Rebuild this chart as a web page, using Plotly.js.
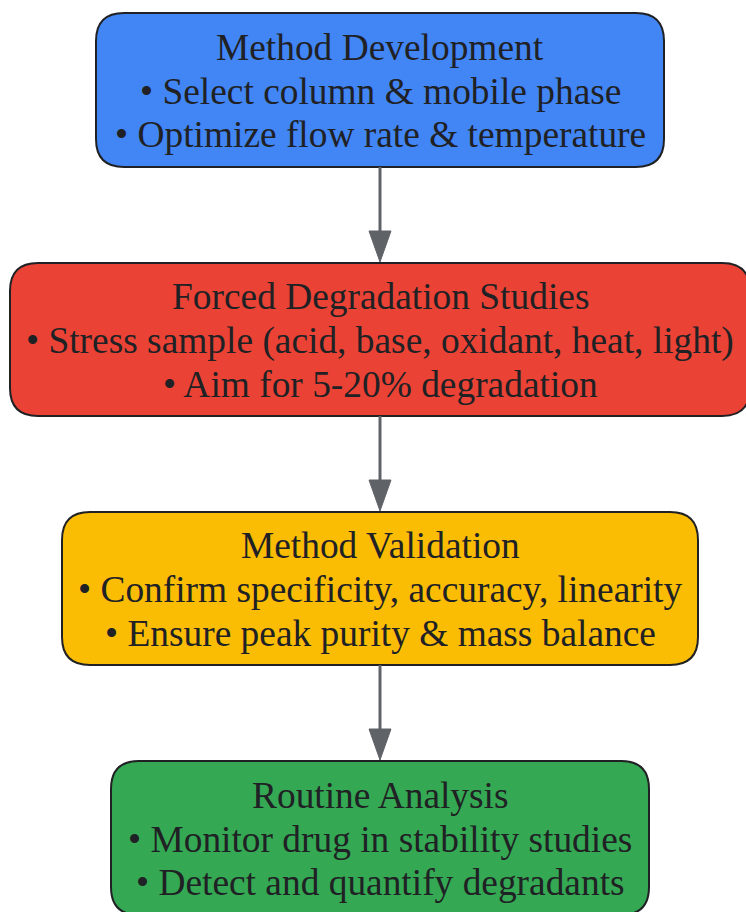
<!DOCTYPE html>
<html>
<head>
<meta charset="utf-8">
<script src="https://cdn.plot.ly/plotly-3.0.1.min.js"></script>
<style>html,body{margin:0;padding:0;background:#fff;}#chart{width:746px;height:912px;}</style>
</head>
<body>
<div id="chart"></div>
<script>
// ---- data ----
const stages = ["Method Development", "Forced Degradation Studies", "Method Validation", "Routine Analysis"];
const firstPoints = ["• Select column & mobile phase", "• Stress sample (acid, base, oxidant, heat, light)", "• Confirm specificity, accuracy, linearity", "• Monitor drug in stability studies"];
const secondPoints = ["• Optimize flow rate & temperature", "• Aim for 5-20% degradation", "• Ensure peak purity & mass balance", "• Detect and quantify degradants"];

// ---- layout geometry & styles (not data) ----
const boxes = [
  {x0: 96, x1: 664, y0: 13, y1: 167},
  {x0: 10, x1: 750, y0: 263, y1: 416},
  {x0: 62, x1: 698, y0: 512, y1: 665},
  {x0: 111, x1: 649, y0: 761, y1: 915}
];
const fills = ["#4285F4", "#EA4335", "#FBBC04", "#34A853"];
const cx = 380, r = 28, lineGap = 43.7;
const font = {family: "Liberation Serif, Times New Roman, serif", size: 37.4, color: "#202124"};

function rr(b) {
  const {x0, x1, y0, y1} = b;
  return `M${x0 + r},${y0} H${x1 - r} Q${x1},${y0} ${x1},${y0 + r} V${y1 - r} Q${x1},${y1} ${x1 - r},${y1} H${x0 + r} Q${x0},${y1} ${x0},${y1 - r} V${y0 + r} Q${x0},${y0} ${x0 + r},${y0} Z`;
}

const shapes = [];
const annotations = [];
stages.forEach((s, i) => {
  const b = boxes[i];
  shapes.push({type: "path", xref: "x", yref: "y", path: rr(b), fillcolor: fills[i], line: {color: "#202124", width: 2}, layer: "above"});
  const mid = (b.y0 + b.y1) / 2 + 1;
  [s, firstPoints[i], secondPoints[i]].forEach((t, k) => {
    annotations.push({x: cx, y: mid + (k - 1) * lineGap, xref: "x", yref: "y", text: t, showarrow: false, font: font, xanchor: "center", yanchor: "middle"});
  });
  if (i < stages.length - 1) {
    const nb = boxes[i + 1];
    shapes.push({type: "line", xref: "x", yref: "y", x0: cx, x1: cx, y0: b.y1, y1: nb.y0 - 30, line: {color: "#5F6368", width: 3}});
    shapes.push({type: "path", xref: "x", yref: "y", path: `M${cx - 11},${nb.y0 - 32} L${cx + 11},${nb.y0 - 32} L${cx},${nb.y0 - 1} Z`, fillcolor: "#5F6368", line: {color: "#5F6368", width: 1}});
  }
});

const layout = {
  width: 746, height: 912,
  margin: {l: 0, r: 0, t: 0, b: 0},
  paper_bgcolor: "#ffffff", plot_bgcolor: "#ffffff",
  xaxis: {range: [0, 746], visible: false, fixedrange: true},
  yaxis: {range: [912, 0], visible: false, fixedrange: true},
  shapes: shapes,
  annotations: annotations,
  showlegend: false
};
Plotly.newPlot("chart", [{x: [], y: [], type: "scatter", hoverinfo: "skip"}], layout, {displayModeBar: false, staticPlot: true});
</script>
</body>
</html>
